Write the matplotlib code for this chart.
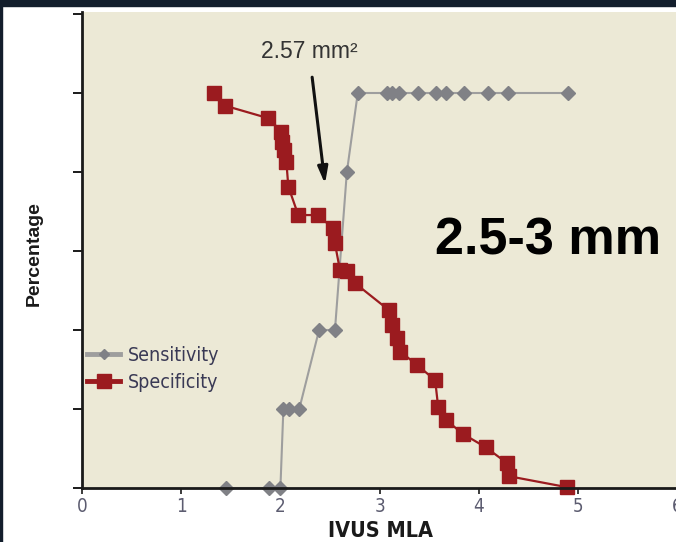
import matplotlib
matplotlib.use("Agg")
import matplotlib.pyplot as plt
from matplotlib.patches import Rectangle
from matplotlib.lines import Line2D
from matplotlib import font_manager as fm

# ---- data ----
sens_x = [1.45, 1.89, 2.00, 2.03, 2.09, 2.19, 2.39, 2.55, 2.67, 2.78,
          3.07, 3.13, 3.20, 3.39, 3.57, 3.67, 3.85, 4.09, 4.29, 4.90]
sens_y = [0, 0, 0, 20, 20, 20, 40, 40, 80, 100,
          100, 100, 100, 100, 100, 100, 100, 100, 100, 100]

spec_x = [1.33, 1.44, 1.88, 2.01, 2.02, 2.04, 2.06, 2.08, 2.18, 2.38,
          2.53, 2.55, 2.60, 2.67, 2.75, 3.09, 3.13, 3.18, 3.21, 3.38,
          3.56, 3.59, 3.67, 3.84, 4.07, 4.28, 4.30, 4.89]
spec_y = [100, 96.8, 93.6, 90.2, 87.7, 85.6, 82.6, 76.3, 69.1, 69.1,
          65.7, 61.9, 55.2, 54.9, 51.9, 45.1, 41.3, 37.9, 34.5, 31.1,
          27.3, 20.6, 17.2, 13.7, 10.3, 6.4, 3.0, 0.2]

x_ticks = [0, 1, 2, 3, 4, 5, 6]
y_ticks = [0, 20, 40, 60, 80, 100, 120]
series_labels = ["Sensitivity", "Specificity"]
cutoff_label = "2.57 mm\u00b2"
range_label = "2.5-3 mm"

# ---- find a condensed / narrow font if one is installed ----
def _is_narrow(f):
    n = (f.name + " " + f.fname).lower()
    return ("narrow" in n or "condensed" in n or
            str(f.stretch) in ("condensed", "semi-condensed", "extra-condensed"))

_cands = [f for f in fm.fontManager.ttflist if _is_narrow(f) and f.style == "normal"]

def _pick(bold):
    def w(f):
        try:
            return int(f.weight)
        except Exception:
            return 700 if "bold" in str(f.weight) else 400
    sel = [f for f in _cands if (w(f) >= 700) == bold and "oblique" not in f.fname.lower()
           and "italic" not in f.fname.lower()]
    if sel:
        return sel[0].fname
    return None

_reg = _pick(False)
_bld = _pick(True)

def narrow(size, bold=False):
    path = _bld if bold else _reg
    if path:
        return fm.FontProperties(fname=path, size=size)
    return fm.FontProperties(family=["Roboto", "DejaVu Sans"], size=size,
                             weight="bold" if bold else "normal")

BOLD = ["Liberation Sans", "DejaVu Sans"]

W, H = 676, 542
fig = plt.figure(figsize=(W / 100, H / 100), dpi=100)
fig.patch.set_facecolor("white")

ax = fig.add_axes([82 / W, (H - 488) / H, (679 - 82) / W, (488 - 12) / H])
ax.set_facecolor("#ECE9D6")
ax.set_xlim(0, 597 / 99.2)
ax.set_ylim(0, 476 / 3.95)

red = "#9B1B1F"
gray_m = "#808186"
gray_l = "#9E9E9E"

ax.plot(sens_x, sens_y, color=gray_l, lw=1.5, marker="D", ms=7,
        mfc=gray_m, mec=gray_m, zorder=3, clip_on=False)
ax.plot(spec_x, spec_y, color=red, lw=1.6, marker="s", ms=10.5,
        mfc=red, mec=red, zorder=4, clip_on=False)

for s in ["top", "right"]:
    ax.spines[s].set_visible(False)
for s in ["left", "bottom"]:
    ax.spines[s].set_linewidth(2.0)
    ax.spines[s].set_color("#1a1a1a")
    ax.spines[s].set_zorder(5)

ax.set_xticks(x_ticks)
ax.set_yticks(y_ticks)
ax.set_yticklabels([])
ax.tick_params(axis="y", direction="out", length=6.5, width=1.4, color="#1a1a1a")
ax.tick_params(axis="x", direction="out", length=4.5, width=1.2, color="#1a1a1a",
               pad=2, labelcolor="#5c5c70")
ax.set_xticklabels([str(v) for v in x_ticks])
for lab in ax.get_xticklabels():
    lab.set_fontproperties(narrow(13.5))

ax.set_xlabel("IVUS MLA", fontproperties=narrow(15.5, bold=True),
              color="#1a1a1a", va="baseline")
ax.xaxis.set_label_coords((381 - 82) / 597, (488 - 536.7) / 476)
ax.set_ylabel("Percentage", family=BOLD, fontweight="bold", fontsize=14,
              color="#1a1a1a", va="center", ha="center")
ax.yaxis.set_label_coords((34.7 - 82) / 597, (488 - 254) / 476)

# annotation arrow and text
ax.annotate("", xy=(2.45, 77.0), xytext=(2.32, 104),
            arrowprops=dict(arrowstyle="-|>,head_length=1.0,head_width=0.3",
                            color="#111111", lw=2.2, shrinkA=0, shrinkB=0))
ax.text(2.29, 108.8, cutoff_label, family=BOLD, fontsize=16.5, color="#333333",
        ha="center", va="baseline")
ax.text(4.70, 59.0, range_label, family=BOLD, fontsize=37.5, fontweight="bold",
        color="black", ha="center", va="baseline")

handles = [
    Line2D([], [], color=gray_l, lw=3.5, marker="D", ms=5.5, mfc=gray_m, mec=gray_m),
    Line2D([], [], color=red, lw=3.5, marker="s", ms=9.5, mfc=red, mec=red),
]
leg = ax.legend(handles, series_labels, loc="upper left",
                bbox_to_anchor=(87 / W, 1 - 346 / H), bbox_transform=fig.transFigure,
                frameon=False, borderpad=0, borderaxespad=0, handlelength=1.7,
                handletextpad=0.4, labelspacing=0.42,
                prop=narrow(14))
for t in leg.get_texts():
    t.set_color("#3a3a55")

# dark framing bands of the screenshot
fig.patches.append(Rectangle((0, 1 - 6 / H), 1, 6 / H, transform=fig.transFigure,
                             color="#131E2C", zorder=10))
fig.patches.append(Rectangle((0, 0), 2 / W, 1, transform=fig.transFigure,
                             color="#131E2C", zorder=10))

fig.savefig("out.png", dpi=100)
